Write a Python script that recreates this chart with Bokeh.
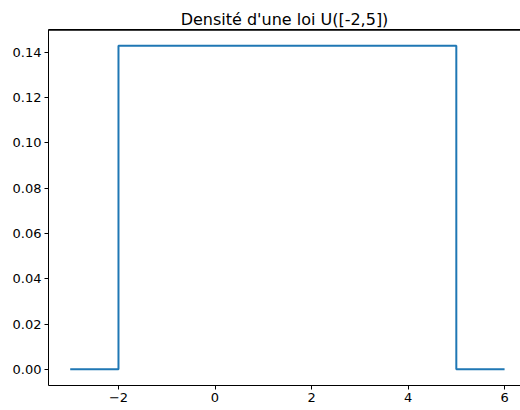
from bokeh.plotting import figure
from bokeh.models import Range1d, FixedTicker, LinearAxis, NumeralTickFormatter, Span
from bokeh.embed import file_html
from bokeh.resources import INLINE

x_vals = [-3, -2, -2, 5, 5, 6]
y_vals = [0, 0, 1/7, 1/7, 0, 0]
x_ticks = [-2, 0, 2, 4, 6]
x_tick_labels = {-2: "\u22122", 0: "0", 2: "2", 4: "4", 6: "6"}
y_ticks = [0.0, 0.02, 0.04, 0.06, 0.08, 0.10, 0.12, 0.14]
title_text = "Densité d'une loi U([-2,5])"

p = figure(width=520, height=410, output_backend="svg", toolbar_location=None,
           x_range=Range1d(-3.45, 6.33), y_range=Range1d(-1/140, 0.15),
           x_axis_location=None, y_axis_location=None,
           min_border_left=48, min_border_right=0, min_border_top=29, min_border_bottom=25)
p.title.text = title_text
p.title.align = "center"
p.title.text_font = "DejaVu Sans"
p.title.text_font_size = "16px"
p.title.text_font_style = "normal"
p.title.text_color = "#000000"
p.title.offset = 0
p.title.standoff = 2
p.grid.visible = False
p.outline_line_color = None
p.background_fill_color = "white"
p.border_fill_color = "white"

def style(ax):
    ax.axis_line_color = "black"
    ax.axis_line_width = 1
    ax.major_tick_line_color = "black"
    ax.major_tick_in = 0
    ax.major_tick_out = 4
    ax.minor_tick_line_color = None
    ax.major_label_text_font = "DejaVu Sans"
    ax.major_label_text_font_size = "13px"
    ax.major_label_text_color = "black"
    ax.major_label_standoff = 3

xa = LinearAxis(ticker=FixedTicker(ticks=x_ticks), major_label_overrides=x_tick_labels)
style(xa)
p.add_layout(xa, "below")
ya = LinearAxis(ticker=FixedTicker(ticks=y_ticks), formatter=NumeralTickFormatter(format="0.00"))
style(ya)
p.add_layout(ya, "left")
ta = LinearAxis(ticker=FixedTicker(ticks=[]))
ta.axis_line_color = "black"
ta.major_tick_line_color = None
ta.minor_tick_line_color = None
ta.major_label_text_font_size = "0px"
ta.major_label_standoff = 0
p.add_layout(ta, "above")
p.add_layout(Span(location=0.1497, dimension="width", line_color="black", line_width=1.2))

p.line(x_vals, y_vals, line_color="#1f77b4", line_width=2)

open("out.html", "w").write(file_html(p, INLINE))
